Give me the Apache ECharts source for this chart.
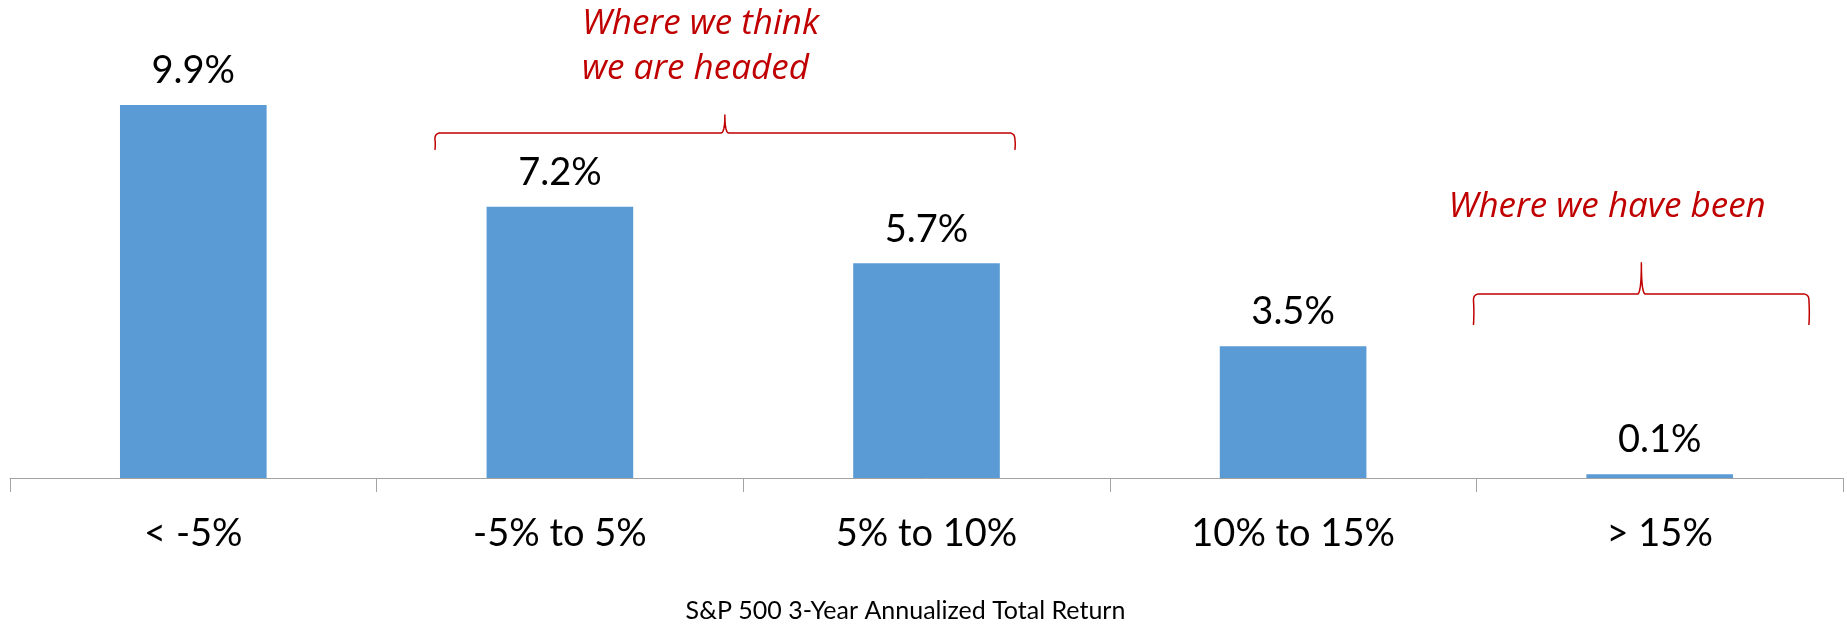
<!DOCTYPE html>
<html>
<head>
<meta charset="utf-8">
<title>S&amp;P 500 3-Year Annualized Total Return</title>
<script src="https://cdn.jsdelivr.net/npm/echarts@6/dist/echarts.min.js"></script>
<style>
  html, body { margin: 0; padding: 0; background: #ffffff; }
  #chart { width: 1847px; height: 626px; }
</style>
</head>
<body>
<div id="chart"></div>
<script>
// Return buckets and the share of periods falling in each (percent)
const categories = ['< -5%', '-5% to 5%', '5% to 10%', '10% to 15%', '> 15%'];
const shares = [9.9, 7.2, 5.7, 3.5, 0.1];
const axisTitle = 'S&P 500 3-Year Annualized Total Return';
const noteHeaded = 'Where we think\nwe are headed';
const noteBeen = 'Where we have been';

const FONT = 'Lato, "Open Sans", sans-serif';
const NOTE_FONT = '"Open Sans", Lato, sans-serif';
const RED = '#C00000';

const chart = echarts.init(document.getElementById('chart'), null, { renderer: 'canvas' });

chart.setOption({
  animation: false,
  backgroundColor: '#ffffff',
  grid: { left: 10, right: 4, top: 26, bottom: 148, containLabel: false, outerBoundsMode: 'none' },
  xAxis: {
    type: 'category',
    data: categories,
    boundaryGap: true,
    axisLine: { show: true, lineStyle: { color: '#A3A3A3', width: 1 } },
    axisTick: { show: true, length: 14, lineStyle: { color: '#A3A3A3', width: 1 } },
    axisLabel: { margin: 37, fontFamily: FONT, fontSize: 38, color: '#000000' },
    name: axisTitle,
    nameLocation: 'middle',
    nameGap: 120,
    nameTextStyle: { fontFamily: FONT, fontSize: 25, color: '#000000', padding: [0, 42, 0, 0] }
  },
  yAxis: {
    type: 'value',
    min: 0,
    max: 12,
    show: false,
    splitLine: { show: false }
  },
  series: [{
    type: 'bar',
    data: shares,
    barWidth: '40%',
    itemStyle: { color: '#5B9BD5' },
    label: {
      show: true,
      position: 'top',
      distance: 15,
      fontFamily: FONT,
      fontSize: 38,
      color: '#000000',
      formatter: p => p.value.toFixed(1) + '%'
    }
  }]
});

// Callouts: braces span fractional category positions, heights in axis units
const braces = [
  { from: 0.659, to: 2.241, tip: 1.45, line: 9.16, ends: 8.71, peak: 9.64 },
  { from: 3.492, to: 4.407, tip: 3.95, line: 4.885, ends: 4.06, peak: 5.715 }
];
const notes = [
  { text: noteHeaded, at: 1.06, level: 11.45 },
  { text: noteBeen, at: 3.424, level: 7.19 }
];

// Category index (possibly fractional) to pixel x, value to pixel y
const c0 = chart.convertToPixel({ xAxisIndex: 0 }, 0);
const c1 = chart.convertToPixel({ xAxisIndex: 0 }, 1);
const px = u => c0 + (c1 - c0) * u;
const py = v => chart.convertToPixel({ yAxisIndex: 0 }, v);

// Quadratic curve sampled into points (start point excluded)
function quad(pts, p0, c, p1, n) {
  for (let i = 1; i <= n; i++) {
    const t = i / n, a = (1 - t) * (1 - t), b = 2 * t * (1 - t), d = t * t;
    pts.push([a * p0[0] + b * c[0] + d * p1[0], a * p0[1] + b * c[1] + d * p1[1]]);
  }
}

function bracePoints(b) {
  const x0 = px(b.from), x1 = px(b.to), xc = px(b.tip);
  const yl = py(b.line), yb = py(b.ends), yp = py(b.peak);
  const r = 6, r2 = 4;
  const pts = [[x0, yb]];
  quad(pts, [x0, yb], [x0 + 0.8, (yb + yl + r) / 2], [x0, yl + r], 6);
  quad(pts, [x0, yl + r], [x0, yl], [x0 + r, yl], 8);
  pts.push([xc - r2, yl]);
  quad(pts, [xc - r2, yl], [xc, yl], [xc, yp], 10);
  quad(pts, [xc, yp], [xc, yl], [xc + r2, yl], 10);
  pts.push([x1 - r, yl]);
  quad(pts, [x1 - r, yl], [x1, yl], [x1, yl + r], 8);
  quad(pts, [x1, yl + r], [x1 + 0.8, (yb + yl + r) / 2], [x1, yb], 6);
  return pts;
}

const graphics = [];
braces.forEach(b => {
  graphics.push({
    type: 'polyline',
    silent: true,
    shape: { points: bracePoints(b) },
    style: { fill: null, stroke: RED, lineWidth: 1.5, lineJoin: 'round' }
  });
});
notes.forEach(n => {
  graphics.push({
    type: 'text',
    silent: true,
    x: px(n.at),
    y: py(n.level),
    style: {
      text: n.text,
      fill: RED,
      fontFamily: NOTE_FONT,
      fontSize: 35,
      fontStyle: 'italic',
      lineHeight: 45,
      align: 'left',
      verticalAlign: 'middle'
    }
  });
});

chart.setOption({ graphic: graphics });
</script>
</body>
</html>
